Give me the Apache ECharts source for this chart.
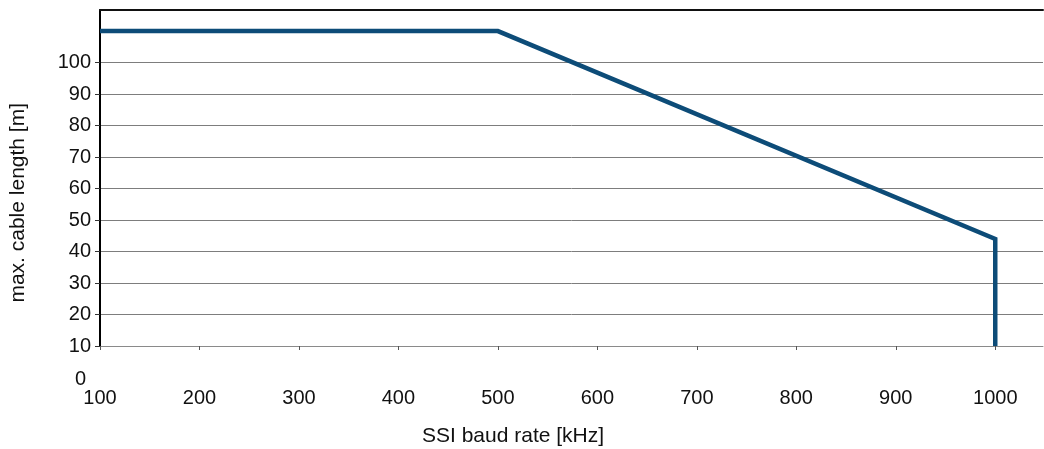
<!DOCTYPE html>
<html>
<head>
<meta charset="utf-8">
<script src="https://cdn.jsdelivr.net/npm/echarts@6/dist/echarts.min.js"></script>
<style>
html,body{margin:0;padding:0;background:#fff;}
#c{width:1044px;height:449px;}
</style>
</head>
<body>
<div id="c"></div>
<script>
const baudRate = [100, 500, 1000, 1000];
const cableLength = [110, 110, 44, 10];
const xTicks = [100, 200, 300, 400, 500, 600, 700, 800, 900, 1000];
const yTicks = [10, 20, 30, 40, 50, 60, 70, 80, 90, 100];
const xTitle = 'SSI baud rate [kHz]';
const yTitle = 'max. cable length [m]';
const extraYLabel = 0;

const chart = echarts.init(document.getElementById('c'), null, {renderer: 'canvas'});
const font = 'Liberation Sans, Arial, sans-serif';
chart.setOption({
  animation: false,
  backgroundColor: '#fff',
  grid: {left: 100, right: 1, top: 10, bottom: 103},
  xAxis: [{
    type: 'value', min: 100, max: 1048, interval: 100,
    axisLine: {show: true, lineStyle: {color: '#8a8a8a', width: 1}},
    axisTick: {show: true, length: 4, customValues: xTicks, lineStyle: {color: '#555'}},
    axisLabel: {color: '#111', fontSize: 20, fontFamily: font, margin: 42,
      customValues: xTicks, formatter: v => String(v)},
    splitLine: {show: false}
  }, {
    type: 'value', position: 'top', min: 100, max: 1048,
    axisLine: {show: true, lineStyle: {color: '#111', width: 2}},
    axisTick: {show: false}, axisLabel: {show: false}, splitLine: {show: false}
  }],
  yAxis: {
    type: 'value', min: 10, max: 116.7, interval: 10,
    axisLine: {show: true, lineStyle: {color: '#000', width: 2}},
    axisTick: {show: true, length: 5, customValues: yTicks, lineStyle: {color: '#333'}},
    axisLabel: {color: '#111', fontSize: 20, fontFamily: font, margin: 9,
      customValues: yTicks, formatter: v => String(v)},
    splitLine: {show: true, lineStyle: {color: '#7d7d7d', width: 1}}
  },
  series: [{
    type: 'line',
    data: baudRate.map((x, i) => [x, cableLength[i]]),
    symbol: 'none',
    lineStyle: {color: '#0d4c78', width: 4.5, cap: 'butt', join: 'miter'}
  }]
});

const p0 = chart.convertToPixel({yAxisIndex: 0}, extraYLabel);
chart.setOption({
  graphic: [
    {type: 'text', right: 1044 - 86, top: p0 - 8,
      style: {text: String(extraYLabel), font: '20px ' + font, fill: '#111', textAlign: 'right'}},
    {type: 'text', left: 422, top: 426,
      style: {text: xTitle, font: '21px ' + font, fill: '#111'}},
    {type: 'text', left: 8, top: 103, rotation: Math.PI / 2,
      style: {text: yTitle, font: '21px ' + font, fill: '#111'}}
  ]
});
</script>
</body>
</html>
